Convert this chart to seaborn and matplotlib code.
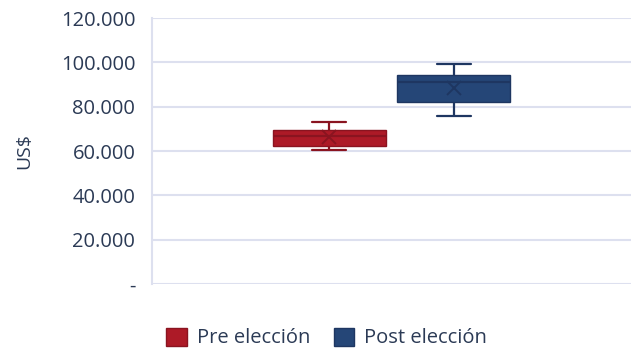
import matplotlib
matplotlib.use("Agg")
import matplotlib.pyplot as plt
from matplotlib.patches import Patch
from matplotlib.ticker import FuncFormatter, MultipleLocator
import seaborn as sns
import pandas as pd

# Data (five-number summaries)
groups = ["Pre elección", "Post elección"]
pre_values = [60600, 62300, 66800, 69500, 73200]
post_values = [75900, 82200, 91000, 94400, 99300]
fill_colors = ["#AD1A27", "#254677"]
edge_colors = ["#8A1420", "#1E3661"]
y_label = "US$"

df = pd.DataFrame({
    "cat": [""] * (len(pre_values) + len(post_values)),
    "grupo": [groups[0]] * len(pre_values) + [groups[1]] * len(post_values),
    "valor": pre_values + post_values,
})

sns.set_theme(style="white")
plt.rcParams["font.family"] = ["Open Sans", "DejaVu Sans"]
text_color = "#2B3A55"
grid_color = "#DDE0EF"

fig = plt.figure(figsize=(6.31, 3.51), dpi=100)
ax = fig.add_axes([0.2409, 0.1909, 0.7591, 0.7578])

sns.boxplot(
    data=df, x="cat", y="valor", hue="grupo", hue_order=groups,
    palette=dict(zip(groups, fill_colors)), saturation=1, width=0.52, gap=0.09,
    whis=3.0, showmeans=True, linewidth=1.5, ax=ax, legend=False,
    capwidths=0.071,
)

# style each box per group
for i, color in enumerate(edge_colors):
    patch = ax.patches[i]
    patch.set_facecolor(fill_colors[i])
    patch.set_edgecolor(color)
    patch.set_linewidth(1.0)
lines = ax.lines
n_per = len(lines) // 2
for i in range(2):
    for ln in lines[i * n_per:(i + 1) * n_per]:
        ln.set_color(edge_colors[i])
        ln.set_linewidth(1.6)
        m = ln.get_marker()
        if m not in (None, "None", "", " ") and len(ln.get_xdata()) == 1:
            ln.set_marker("x")
            ln.set_markersize(10)
            ln.set_markeredgewidth(1.4)
            ln.set_markeredgecolor(edge_colors[i])
            ln.set_linestyle("None")

ax.set_xlim(-0.5, 0.5)
ax.set_ylim(0, 120000)
ax.yaxis.set_major_locator(MultipleLocator(20000))
ax.yaxis.set_major_formatter(FuncFormatter(
    lambda v, p: "-" if v == 0 else f"{v:,.0f}".replace(",", ".")))
ax.grid(axis="y", color=grid_color, linewidth=1.5)
ax.set_axisbelow(True)
for s in ["top", "right", "bottom"]:
    ax.spines[s].set_visible(False)
ax.spines["left"].set_color(grid_color)
ax.spines["left"].set_linewidth(1.5)
ax.set_xticks([])
ax.set_xlabel("")
ax.set_ylabel(y_label, fontsize=14, color=text_color, labelpad=20)
ax.tick_params(axis="y", labelsize=14.5, labelcolor=text_color, length=0, pad=12)

handles = [Patch(facecolor=fc, edgecolor=ec, linewidth=1.0)
           for fc, ec in zip(fill_colors, edge_colors)]
fig.legend(handles, groups, loc="center", bbox_to_anchor=(0.518, 0.037),
           ncol=2, frameon=False, fontsize=14.5, labelcolor=text_color,
           handlelength=1.0, handleheight=1.0, handletextpad=0.5,
           columnspacing=1.2)

fig.savefig("out.png", dpi=100)
